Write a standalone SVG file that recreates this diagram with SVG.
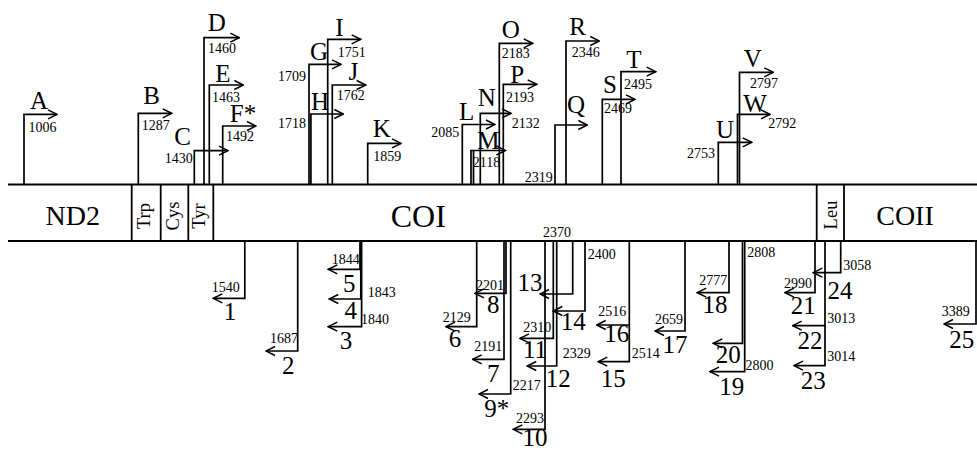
<svg xmlns="http://www.w3.org/2000/svg" width="977" height="450" viewBox="0 0 977 450">
<defs>
<marker id="ah" markerUnits="userSpaceOnUse" markerWidth="12" markerHeight="12" viewBox="0 0 12 12" refX="11" refY="6" orient="auto">
<path d="M2,1.5 L11,6 L2,10.5" fill="none" stroke="#000" stroke-width="1.5"/>
</marker>
<style>
.ln{fill:none;stroke:#000;stroke-width:1.8}
.arr{fill:none;stroke:#000;stroke-width:1.7;marker-end:url(#ah)}
text{font-family:"Liberation Serif","Times New Roman",serif;fill:#000}
.lbl{font-size:25px;text-anchor:middle}
.num{font-size:14px}
.numr{font-size:14px;text-anchor:end}
.big{font-size:32px;text-anchor:middle}
.trna{font-size:18.5px;text-anchor:middle}
</style>
</defs>
<rect width="977" height="450" fill="#fff"/>

<g id="genome-bar">
<line class="ln" x1="8" y1="184.5" x2="977" y2="184.5"/>
<line class="ln" x1="8" y1="241" x2="977" y2="241"/>
</g>
<g id="seg-ND2"><text class="big" x="72.7" y="225" style="font-size:28px">ND2</text></g>
<g id="seg-Trp"><line class="ln" x1="131.7" y1="184.5" x2="131.7" y2="241"/><text class="trna" transform="translate(150,216) rotate(-90)">Trp</text></g>
<g id="seg-Cys"><line class="ln" x1="160.7" y1="184.5" x2="160.7" y2="241"/><text class="trna" transform="translate(178.5,216) rotate(-90)">Cys</text></g>
<g id="seg-Tyr"><line class="ln" x1="188.3" y1="184.5" x2="188.3" y2="241"/><line class="ln" x1="213.3" y1="184.5" x2="213.3" y2="241"/><text class="trna" transform="translate(205,216) rotate(-90)">Tyr</text></g>
<g id="seg-COI"><text class="big" x="418.3" y="226.5">COI</text></g>
<g id="seg-Leu"><line class="ln" x1="816.7" y1="184.5" x2="816.7" y2="241"/><line class="ln" x1="844" y1="184.5" x2="844" y2="241"/><text class="trna" transform="translate(837,215) rotate(-90)">Leu</text></g>
<g id="seg-COII"><text class="big" x="905" y="225" style="font-size:28px">COII</text></g>

<g id="connectors">
<path class="arr" d="M24,184.5 V114.3 H57"/>
<path class="arr" d="M138.3,184.5 V113.3 H171.7"/>
<path class="arr" d="M194.3,184.5 V150.7 H228"/>
<path class="arr" d="M204,184.5 V37.7 H239.3"/>
<path class="arr" d="M209.3,184.5 V85 H243.3"/>
<path class="arr" d="M222.7,184.5 V126 H256"/>
<path class="arr" d="M309,184.5 V64.3 H341"/>
<path class="arr" d="M310.9,184.5 V114 H343.3"/>
<path class="arr" d="M327.7,184.5 V39.3 H360.7"/>
<path class="arr" d="M332.3,184.5 V85 H365.7"/>
<path class="arr" d="M367.7,184.5 V143.3 H401"/>
<path class="arr" d="M462.3,184.5 V124.5 H495"/>
<path class="arr" d="M471,184.5 V150.5 H505.5"/>
<path class="ln" d="M473.5,184.5 V150.5"/>
<path class="arr" d="M480.3,184.5 V113.3 H511"/>
<path class="arr" d="M499.3,184.5 V43.3 H532.7"/>
<path class="arr" d="M503.3,184.5 V84.3 H536.7"/>
<path class="arr" d="M555,184.5 V125 H587.3"/>
<path class="arr" d="M566,184.5 V41 H599.3"/>
<path class="arr" d="M602.3,184.5 V99.3 H635"/>
<path class="arr" d="M621,184.5 V71.7 H655.7"/>
<path class="arr" d="M718.3,184.5 V142.3 H751.7"/>
<path class="arr" d="M739.5,184.5 V72.3 H773.3"/>
<path class="arr" d="M737.5,184.5 V114.3 H770"/>

<path class="arr" d="M244.8,241 V298.3 H213.3"/>
<path class="arr" d="M297.7,241 V351 H266"/>
<path class="arr" d="M360,241 V269.3 H328.3"/>
<path class="arr" d="M360.8,241 V299 H329.3"/>
<path class="arr" d="M361.6,241 V326.7 H328.3"/>
<path class="arr" d="M476.7,241 V326.7 H446"/>
<path class="arr" d="M506,241 V293.3 H475"/>
<path class="arr" d="M504,241 V359.3 H472.7"/>
<path class="arr" d="M510.7,241 V394 H479"/>
<path class="arr" d="M545,241 V429.3 H513.3"/>
<path class="arr" d="M572.7,241 V294 H540"/>
<path class="arr" d="M585,241 V311 H553.3"/>
<path class="arr" d="M553.3,241 V338.3 H520"/>
<path class="arr" d="M556.7,241 V366 H527.3"/>
<path class="arr" d="M629.3,241 V325 H596.7"/>
<path class="arr" d="M629.3,325 V361.7 H598.3"/>
<path class="arr" d="M685,241 V331 H655"/>
<path class="arr" d="M729,241 V292.7 H697.3"/>
<path class="arr" d="M742.5,241 V343.3 H713.3"/>
<path class="arr" d="M744.7,241 V371.7 H710"/>
<path class="arr" d="M840.7,241 V272.7 H813.3"/>
<path class="arr" d="M815,241 V292.7 H785"/>
<path class="arr" d="M825,241 V325.7 H792.7"/>
<path class="arr" d="M825,325.7 V365.7 H794"/>
<path class="arr" d="M976,241 V324 H944"/>
</g>

<g id="p-A"><text class="lbl" x="39" y="109">A</text><text class="num" x="28.5" y="132">1006</text></g>
<g id="p-B"><text class="lbl" x="151.7" y="104">B</text><text class="num" x="141.7" y="130">1287</text></g>
<g id="p-C"><text class="lbl" x="182.7" y="145">C</text><text class="numr" x="192.7" y="163">1430</text></g>
<g id="p-D"><text class="lbl" x="216.7" y="31">D</text><text class="num" x="208" y="53">1460</text></g>
<g id="p-E"><text class="lbl" x="223" y="81.7">E</text><text class="num" x="212" y="101.7">1463</text></g>
<g id="p-F"><text class="lbl" x="243" y="122">F*</text><text class="num" x="226" y="141">1492</text></g>
<g id="p-G"><text class="lbl" x="319" y="60">G</text><text class="numr" x="306" y="81">1709</text></g>
<g id="p-H"><text class="lbl" x="320" y="110">H</text><text class="numr" x="306" y="128">1718</text></g>
<g id="p-I"><text class="lbl" x="339.3" y="36">I</text><text class="num" x="337.7" y="56.7">1751</text></g>
<g id="p-J"><text class="lbl" x="353.3" y="80">J</text><text class="num" x="336.7" y="100">1762</text></g>
<g id="p-K"><text class="lbl" x="381.7" y="137.3">K</text><text class="num" x="373.3" y="161">1859</text></g>
<g id="p-L"><text class="lbl" x="466.7" y="120">L</text><text class="numr" x="459.3" y="136.7">2085</text></g>
<g id="p-M"><text class="lbl" x="488.3" y="148.5">M</text><text class="num" x="472.7" y="166.7">2118</text></g>
<g id="p-N"><text class="lbl" x="486.7" y="106">N</text><text class="num" x="511.7" y="128.3">2132</text></g>
<g id="p-O"><text class="lbl" x="510.7" y="38.3">O</text><text class="num" x="501.7" y="58.3">2183</text></g>
<g id="p-P"><text class="lbl" x="517.3" y="82.7">P</text><text class="num" x="506" y="101.7">2193</text></g>
<g id="p-Q"><text class="lbl" x="576" y="113.3">Q</text><text class="numr" x="552.7" y="181.7">2319</text></g>
<g id="p-R"><text class="lbl" x="577.7" y="35">R</text><text class="num" x="571.7" y="56.7">2346</text></g>
<g id="p-S"><text class="lbl" x="610" y="93.3">S</text><text class="num" x="604" y="113.3">2469</text></g>
<g id="p-T"><text class="lbl" x="634" y="68.3">T</text><text class="num" x="624" y="89.3">2495</text></g>
<g id="p-U"><text class="lbl" x="725" y="137.7">U</text><text class="numr" x="715" y="158.3">2753</text></g>
<g id="p-V"><text class="lbl" x="752.7" y="66.7">V</text><text class="num" x="750" y="88.3">2797</text></g>
<g id="p-W"><text class="lbl" x="755" y="111.7">W</text><text class="num" x="768.3" y="128.3">2792</text></g>

<g id="p-1"><text class="num" x="211.7" y="291.7">1540</text><text class="lbl" x="230" y="320">1</text></g>
<g id="p-2"><text class="num" x="270" y="343.3">1687</text><text class="lbl" x="288.3" y="374">2</text></g>
<g id="p-3"><text class="num" x="361" y="324.3">1840</text><text class="lbl" x="346" y="349.3">3</text></g>
<g id="p-4"><text class="num" x="367.7" y="296.7">1843</text><text class="lbl" x="350.7" y="319.3">4</text></g>
<g id="p-5"><text class="num" x="331.7" y="264.3">1844</text><text class="lbl" x="349.3" y="291.7">5</text></g>
<g id="p-6"><text class="num" x="442.7" y="321.7">2129</text><text class="lbl" x="455" y="346.7">6</text></g>
<g id="p-7"><text class="num" x="474.3" y="350.7">2191</text><text class="lbl" x="493.3" y="381.7">7</text></g>
<g id="p-8"><text class="num" x="476" y="290">2201</text><text class="lbl" x="493.3" y="313.3">8</text></g>
<g id="p-9"><text class="num" x="512.7" y="390">2217</text><text class="lbl" x="496.7" y="416.7">9*</text></g>
<g id="p-10"><text class="num" x="516" y="423.3">2293</text><text class="lbl" x="535" y="446">10</text></g>
<g id="p-11"><text class="num" x="523.3" y="331.7">2310</text><text class="lbl" x="535" y="358.3">11</text></g>
<g id="p-12"><text class="num" x="562.7" y="358.3">2329</text><text class="lbl" x="558.3" y="386.7">12</text></g>
<g id="p-13"><text class="num" x="543" y="237">2370</text><text class="lbl" x="530" y="290.7">13</text></g>
<g id="p-14"><text class="num" x="587.7" y="259">2400</text><text class="lbl" x="573.3" y="330">14</text></g>
<g id="p-15"><text class="num" x="631.7" y="358.3">2514</text><text class="lbl" x="613.3" y="386.7">15</text></g>
<g id="p-16"><text class="num" x="598.3" y="316">2516</text><text class="lbl" x="616.7" y="341.7">16</text></g>
<g id="p-17"><text class="num" x="655" y="324">2659</text><text class="lbl" x="675" y="352.7">17</text></g>
<g id="p-18"><text class="num" x="699.3" y="285">2777</text><text class="lbl" x="715" y="312.7">18</text></g>
<g id="p-19"><text class="num" x="745.5" y="370">2800</text><text class="lbl" x="731.7" y="395">19</text></g>
<g id="p-20"><text class="num" x="747.3" y="256.7">2808</text><text class="lbl" x="728.3" y="363.3">20</text></g>
<g id="p-21"><text class="num" x="784" y="288.3">2990</text><text class="lbl" x="803.3" y="314.3">21</text></g>
<g id="p-22"><text class="num" x="827.3" y="323.3">3013</text><text class="lbl" x="810" y="349.3">22</text></g>
<g id="p-23"><text class="num" x="827.3" y="361">3014</text><text class="lbl" x="813.3" y="389.3">23</text></g>
<g id="p-24"><text class="num" x="843.3" y="270">3058</text><text class="lbl" x="840" y="299">24</text></g>
<g id="p-25"><text class="num" x="941.7" y="315.7">3389</text><text class="lbl" x="961.7" y="348.3">25</text></g>
</svg>
